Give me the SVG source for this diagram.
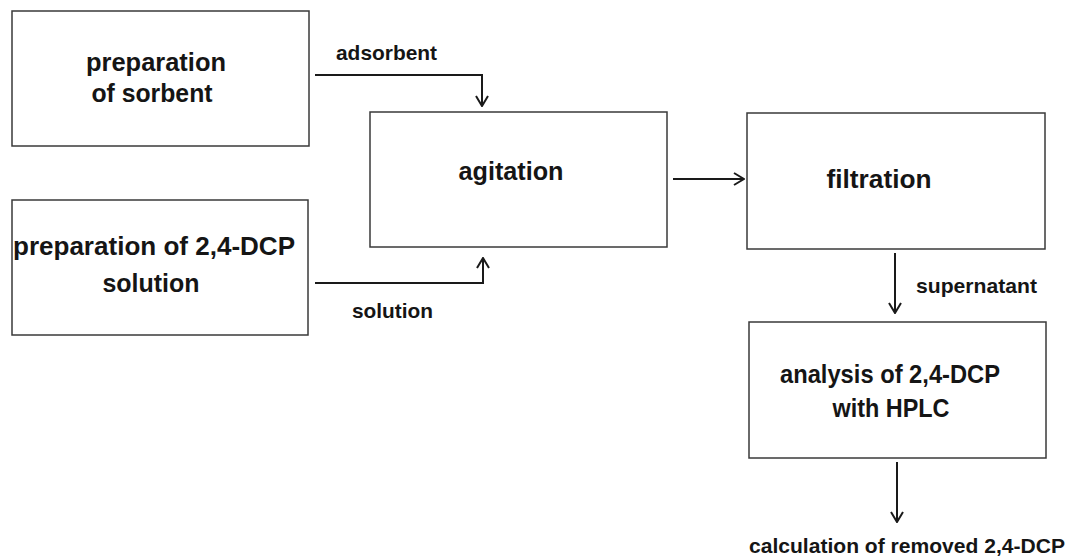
<svg xmlns="http://www.w3.org/2000/svg" width="1068" height="558" viewBox="0 0 1068 558">
<style>
.box{fill:#fff;stroke:#3a3a3a;stroke-width:1.5}
.t{font-family:"Liberation Sans",Arial,sans-serif;font-weight:bold;font-size:25px;fill:#151515}
.l{font-family:"Liberation Sans",Arial,sans-serif;font-weight:bold;font-size:21px;fill:#151515}
.c{fill:none;stroke:#1a1a1a;stroke-width:2}
</style>
<defs>
<marker id="ah" viewBox="0 0 12 14" refX="11" refY="7" markerWidth="12" markerHeight="14" markerUnits="userSpaceOnUse" orient="auto">
<path d="M1,1 L11,7 L1,13" fill="none" stroke="#1a1a1a" stroke-width="2"/>
</marker>
</defs>
<rect width="1068" height="558" fill="#fff"/>
<g id="n1"><rect class="box" x="12" y="11" width="297" height="135"/>
<text class="t" x="156" y="71" text-anchor="middle" textLength="140" lengthAdjust="spacingAndGlyphs">preparation</text>
<text class="t" x="152" y="102" text-anchor="middle" textLength="121" lengthAdjust="spacingAndGlyphs">of sorbent</text></g>
<g id="n2"><rect class="box" x="12" y="200" width="296" height="135"/>
<text class="t" x="154" y="255" text-anchor="middle" textLength="282" lengthAdjust="spacingAndGlyphs">preparation of 2,4-DCP</text>
<text class="t" x="151" y="292" text-anchor="middle" textLength="97" lengthAdjust="spacingAndGlyphs">solution</text></g>
<g id="n3"><rect class="box" x="370" y="112" width="297" height="135"/>
<text class="t" x="511" y="180" text-anchor="middle" textLength="105" lengthAdjust="spacingAndGlyphs">agitation</text></g>
<g id="n4"><rect class="box" x="747" y="113" width="298" height="136"/>
<text class="t" x="879" y="188" text-anchor="middle" textLength="105" lengthAdjust="spacingAndGlyphs">filtration</text></g>
<g id="n5"><rect class="box" x="749" y="322" width="297" height="136"/>
<text class="t" x="890" y="383" text-anchor="middle" textLength="220" lengthAdjust="spacingAndGlyphs">analysis of 2,4-DCP</text>
<text class="t" x="891" y="417" text-anchor="middle" textLength="117" lengthAdjust="spacingAndGlyphs">with HPLC</text></g>
<g id="connectors">
<path class="c" d="M315,75 H482 V106" marker-end="url(#ah)"/>
<path class="c" d="M315,283 H483 V258" marker-end="url(#ah)"/>
<path class="c" d="M673,179 H744" marker-end="url(#ah)"/>
<path class="c" d="M895,253 V313" marker-end="url(#ah)"/>
<path class="c" d="M897,462 V522" marker-end="url(#ah)"/>
<text class="l" x="336" y="60" textLength="101" lengthAdjust="spacingAndGlyphs">adsorbent</text>
<text class="l" x="352" y="318" textLength="81" lengthAdjust="spacingAndGlyphs">solution</text>
<text class="l" x="916" y="293" textLength="121" lengthAdjust="spacingAndGlyphs">supernatant</text>
<text class="l" x="749" y="553" textLength="316" lengthAdjust="spacingAndGlyphs">calculation of removed 2,4-DCP</text>
</g>
</svg>
